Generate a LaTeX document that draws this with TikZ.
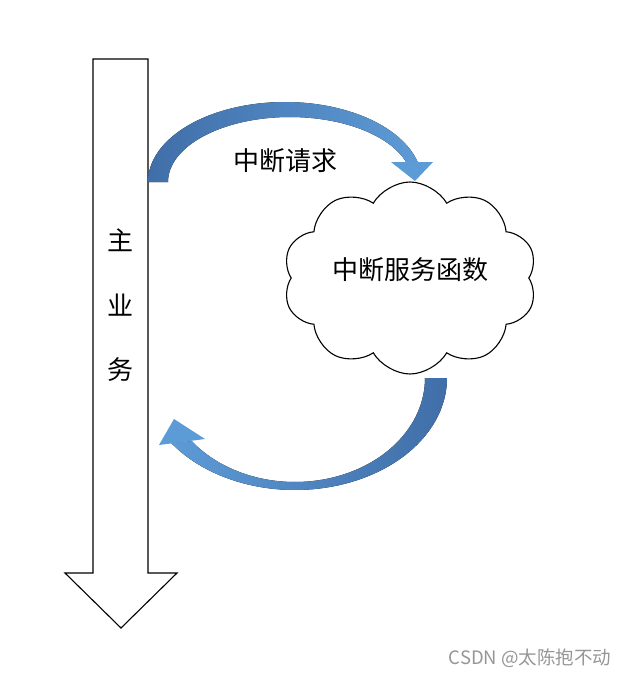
\documentclass[tikz,border=0pt]{standalone}
\usepackage{fontspec}
\newfontfamily\cjk{Noto Sans CJK SC}
\usetikzlibrary{shapes.symbols}
\definecolor{arrowdark}{RGB}{64,110,168}
\definecolor{arrowlight}{RGB}{93,155,214}
\definecolor{wmgray}{RGB}{150,150,150}
\tikzset{
  bigtext/.style={font=\cjk\fontsize{26}{31}\selectfont, inner sep=0pt},
  outline/.style={draw=black, line width=1.1pt, fill=white},
}
\begin{document}
\begin{tikzpicture}[x=1pt,y=-1pt]
\useasboundingbox (0,0) rectangle (630,677);
% main business arrow
\draw[outline] (93,59) -- (148,59) -- (148,573) -- (177,573) -- (121,628) -- (65,573) -- (93,573) -- cycle;
\node[bigtext] (t1) at (120,240) {主};
\node[bigtext] (t2) at (120,305) {业};
\node[bigtext] (t3) at (120,370) {务};
% cloud
\node[cloud, cloud puffs=10, cloud puff arc=120, aspect=1.3, draw=black, line width=1.1pt,
      minimum width=254pt, minimum height=192pt, inner sep=0pt] (isr) at (410,278) {};
\node[bigtext] (isrtext) at (410,270) {中断服务函数};
% top curved arrow (interrupt request)
\fill[left color=arrowdark, right color=arrowlight]
  plot[domain=180:14.5, samples=60] ({285+137*cos(\x)},{182-80*sin(\x)})
  -- plot[domain=17.9:180, samples=60] ({290+122*cos(\x)},{182-65*sin(\x)}) -- cycle;
\fill[arrowlight] (391,162) -- (433,162) -- (415,181) -- cycle;
\node[bigtext] (req) at (285,161) {中断请求};
% bottom curved arrow (return)
\fill[left color=arrowlight, right color=arrowdark]
  plot[domain=0:144.5, samples=60] ({295+152*cos(\x)},{378+112*sin(\x)})
  -- plot[domain=142.7:0, samples=60] ({295+130*cos(\x)},{378+104*sin(\x)}) -- cycle;
\fill[arrowlight] (159,445) -- (205,439) -- (174,419) -- cycle;
% watermark
\node[font=\cjk\fontsize{18.5}{22}\selectfont, text=wmgray, inner sep=0pt] (wm) at (530,658) {CSDN @太陈抱不动};
\end{tikzpicture}
\end{document}
